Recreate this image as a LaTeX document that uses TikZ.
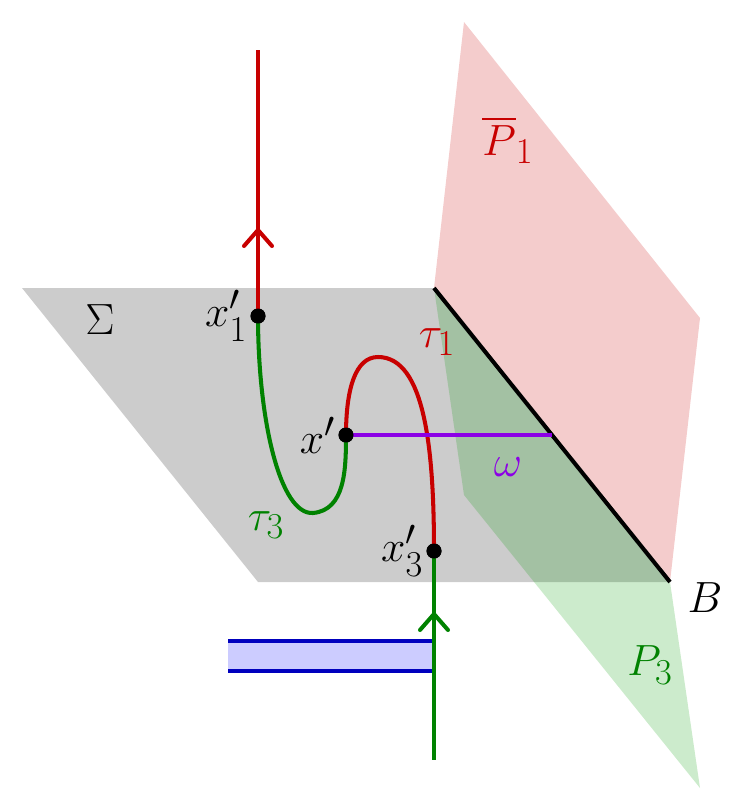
\documentclass[tikz,border=0pt]{standalone}
\usepackage{amsmath}
\begin{document}
\begin{tikzpicture}[x=0.02cm,y=-0.02cm,
  lbl/.style={inner sep=0pt,font=\fontsize{29}{34}\selectfont},
  pt/.style={circle,fill=black,inner sep=0pt,minimum size=0.3cm},
  ln/.style={line width=2.3pt},
  chev/.style={line width=2.3pt,line cap=round,line join=round}]
\definecolor{myred}{RGB}{200,0,0}
\definecolor{mygreen}{RGB}{0,130,0}
\definecolor{mypurple}{RGB}{140,0,230}
\definecolor{myblue}{RGB}{0,0,190}
\definecolor{pink}{RGB}{244,204,204}
\useasboundingbox (0,0) rectangle (746,812);
% planes
\fill[gray!40] (22,288) -- (434,288) -- (670,582) -- (258,582) -- cycle;
\fill[pink] (464,22) -- (700,318) -- (670,582) -- (434,288) -- cycle;
\fill[green!60!black,opacity=0.2] (434,288) -- (670,582) -- (700,788) -- (464,495) -- cycle;
\coordinate (Bt) at (434,288); \coordinate (Bb) at (670,582);
\draw[line width=2.3pt] (Bt) -- (Bb);
% blue band
\fill[blue!20] (228,641) rectangle (434,671);
\draw[myblue,ln] (228,641) -- (434,641) (228,671) -- (434,671);
% points
\node[pt] (x1) at (258,316) {};
\node[pt] (x) at (346,435) {};
\node[pt] (x3) at (434,551) {};
\coordinate (top) at (258,50);
\coordinate (bot) at (434,760);
\coordinate (w) at (552,435);
\draw[myred,ln] (top) -- (x1.center);
\draw[myred,chev] (244,246) -- (258,230) -- (272,246);
\draw[mygreen,ln] (x1.center) .. controls (258,420) and (280,515) .. (313,513) .. controls (345,510) and (346,470) .. (x.center);
\draw[myred,ln] (x.center) .. controls (346,390) and (355,357) .. (378,357) .. controls (425,357) and (434,450) .. (x3.center);
\draw[mygreen,ln] (x3.center) -- (bot);
\draw[mygreen,chev] (420,630) -- (434,614) -- (448,630);
\draw[mypurple,ln] (x.center) -- (w);
\node[pt] at (346,435) {};
\node[pt] at (258,316) {};
\node[pt] at (434,551) {};
% labels
\node[lbl] at (100,320) {$\Sigma$};
\node[lbl,left=6pt] at (x1) {$x_1'$};
\node[lbl,left=6pt] at (x) {$x'$};
\node[lbl,left=6pt] at (x3) {$x_3'$};
\node[lbl,text=myred] at (437,342) {$\tau_1$};
\node[lbl,text=mygreen] at (266,525) {$\tau_3$};
\node[lbl,text=mypurple] at (508,467) {$\omega$};
\node[lbl] at (705,598) {$B$};
\node[lbl,text=myred] at (508,140) {$\overline{P}_1$};
\node[lbl,text=mygreen] at (650,665) {$P_3$};
\end{tikzpicture}
\end{document}
